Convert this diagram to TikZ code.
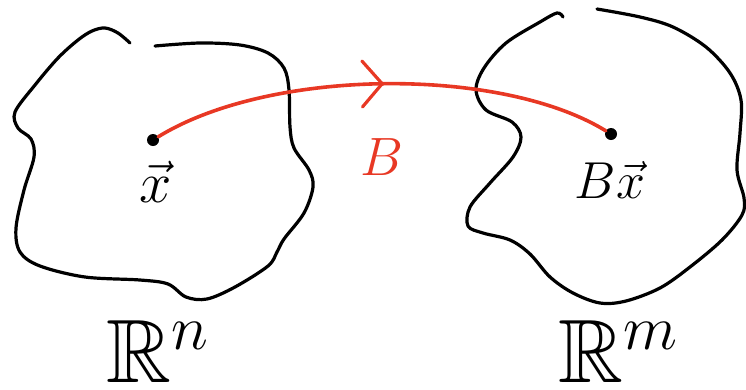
\RequirePackage{fix-cm}
\documentclass[tikz,border=0pt]{standalone}
\usepackage{amsmath,amssymb}
\usepackage{xcolor}
\usetikzlibrary{arrows.meta,decorations.markings}
\definecolor{mapred}{RGB}{232,56,36}
\tikzset{
  blobline/.style={draw=black, line width=3.2pt, line cap=round, line join=round},
  mapline/.style={draw=mapred, line width=3.6pt, line cap=round},
  mapchevron/.style={postaction={decorate}, decoration={markings,
      mark=at position 0.505 with {\arrow[mapred, line width=3.2pt]{Straight Barb[length=20pt, width=46pt, round]}}}},
  pointdot/.style={circle, fill=black, minimum size=12pt, inner sep=0pt},
  vectorlabel/.style={font=\fontsize{58}{62}\selectfont, inner sep=0pt},
  maplabel/.style={font=\fontsize{54}{58}\selectfont, text=mapred, inner sep=0pt},
  spacelabel/.style={font=\fontsize{90}{96}\selectfont, inner sep=0pt}
}
\begin{document}
\begin{tikzpicture}[x=1pt, y=-1pt]
  \useasboundingbox (0,0) rectangle (746,389);

  % domain blob
  \draw[blobline] plot[smooth, tension=0.55] coordinates {(130,43) (118,33) (105,28) (92,31) (78,40) (58,58) (35,85) (15,112) (18,128) (31,139) (34,157) (24,190) (16,228) (20,252) (40,266) (85,277) (140,280) (168,284) (186,297) (207,299) (235,287) (268,266) (277,252) (284,239) (304,213) (313,187) (309,170) (294,148) (290,127) (289,90) (284,68) (268,53) (240,45) (200,43) (155,46)};
  % codomain blob
  \draw[blobline] plot[smooth, tension=0.55] coordinates {(563,17) (557,13) (540,22) (506,43) (484,68) (476,90) (486,110) (512,122) (521,137) (513,157) (490,183) (470,207) (468,226) (483,233) (510,240) (530,254) (550,277) (573,293) (600,303) (626,301) (660,288) (690,267) (722,240) (742,215) (744,198) (737,170) (740,133) (741,100) (730,73) (706,47) (673,27) (640,17) (597,9)};

  \node[pointdot] (x) at (153,140) {};
  \node[pointdot] (bx) at (611,134) {};

  \draw[mapline, mapchevron] (x) .. controls (270,68) and (500,66) .. (bx);

  \node[vectorlabel] (xlab) at (156,182) {$\vec{x}$};
  \node[maplabel] (blab) at (382,157) {$B$};
  \node[vectorlabel, font=\fontsize{52}{56}\selectfont] (bxlab) at (610,180) {$B\vec{x}$};

  \node[spacelabel] (rn) at (158,351) {$\mathbb{R}^n$};
  \node[spacelabel] (rm) at (618,351) {$\mathbb{R}^m$};
\end{tikzpicture}
\end{document}
